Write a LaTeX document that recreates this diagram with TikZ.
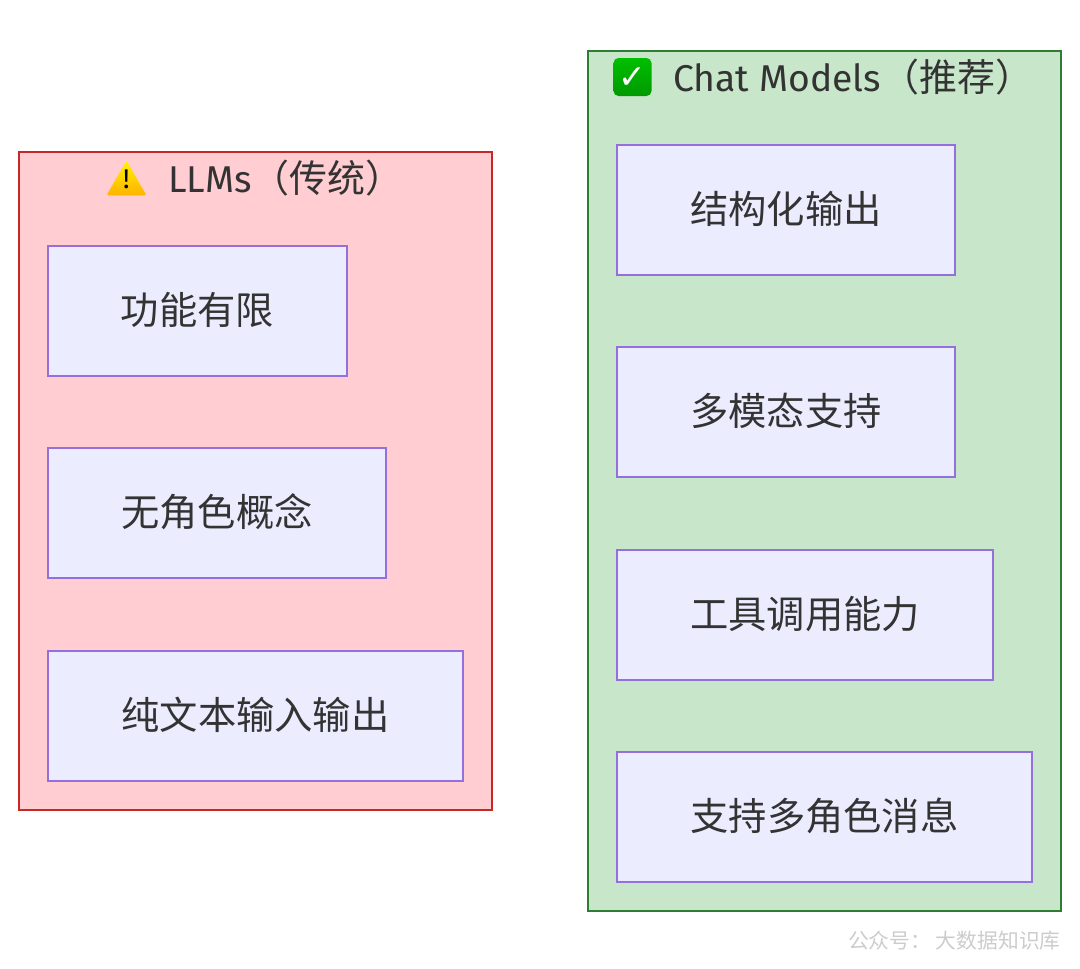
\documentclass[tikz,border=0pt]{standalone}
\usepackage{fontspec}
\setmainfont{Fira Sans}
\newfontfamily\cjk{Noto Sans CJK SC}
\newfontfamily\sym{DejaVu Sans}
\usetikzlibrary{shapes.geometric}
\definecolor{boxfill}{HTML}{ECECFF}
\definecolor{boxline}{HTML}{9370DB}
\definecolor{txt}{HTML}{333333}
\definecolor{oldfill}{HTML}{FFCDD2}
\definecolor{oldline}{HTML}{C62828}
\definecolor{newfill}{HTML}{C8E6C9}
\definecolor{newline}{HTML}{2E7D32}
\tikzstyle{box} = [rectangle, minimum height=130pt, text height=30pt, text depth=2.8pt, text centered, draw = boxline, fill = boxfill, line width=2pt, inner sep=0pt, text = txt, font=\cjk\fontsize{38.3}{44}\selectfont]
\tikzstyle{frame} = [rectangle, line width=2.6pt, inner sep=0pt]
\tikzstyle{title} = [text = txt, inner sep=0pt, font=\fontsize{37.3}{44}\selectfont]
\begin{document}
\begin{tikzpicture}[x=1pt, y=-1pt, node distance=202.3pt]
	\useasboundingbox (0,0) rectangle (1080,969);
	% left group
	\node (Old) [frame, draw = oldline, fill = oldfill, minimum width=473pt, minimum height=658pt] at (255.5,481) {};
	\node (OldT) [title, anchor=base west] at (168,192.5) {LLMs{\cjk\fontsize{38}{44}\selectfont（传统）}};
	\node (Warn) [regular polygon, regular polygon sides=3, top color=yellow!90!orange, bottom color=orange!60!yellow, inner sep=0pt, minimum size=46pt, anchor=south, rounded corners=1.5pt] at (126.5,195.5) {};
	\node (WarnT) [text = black, inner sep=0pt, font=\fontsize{27}{27}\selectfont] at (126.5,179) {!};
	\node (L1) [box, minimum width=299pt] at (197.5,311) {功能有限};
	\node (L2) [box, minimum width=338pt, below of=L1, xshift=19.5pt] {无角色概念};
	\node (L3) [box, minimum width=415pt, below of=L2, xshift=38.5pt] {纯文本输入输出};
	% right group
	\node (New) [frame, draw = newline, fill = newfill, minimum width=473pt, minimum height=860pt] at (824.5,481) {};
	\node (NewT) [title, anchor=base west] at (673,91) {Chat Models{\cjk\fontsize{38}{44}\selectfont（推荐）}};
	\node (Tick) [rectangle, rounded corners=5pt, top color=green!75!black, bottom color=green!60!black, minimum size=38pt, inner sep=0pt] at (632.5,77) {};
	\node (TickT) [inner sep=0pt, text = white, font=\sym\bfseries\fontsize{33}{33}\selectfont] at (632.5,78) {✓};
	\node (C1) [box, minimum width=338pt] at (786,210) {结构化输出};
	\node (C2) [box, minimum width=338pt, below of=C1] {多模态支持};
	\node (C3) [box, minimum width=376pt, below of=C2, xshift=19pt] {工具调用能力};
	\node (C4) [box, minimum width=415pt, below of=C3, xshift=19.5pt] {支持多角色消息};
	% mark
	\node (Mark) [anchor=east, inner sep=0pt, text = black!20, font=\cjk\fontsize{20.8}{24}\selectfont] at (1061,941) {公众号： 大数据知识库};
\end{tikzpicture}
\end{document}
